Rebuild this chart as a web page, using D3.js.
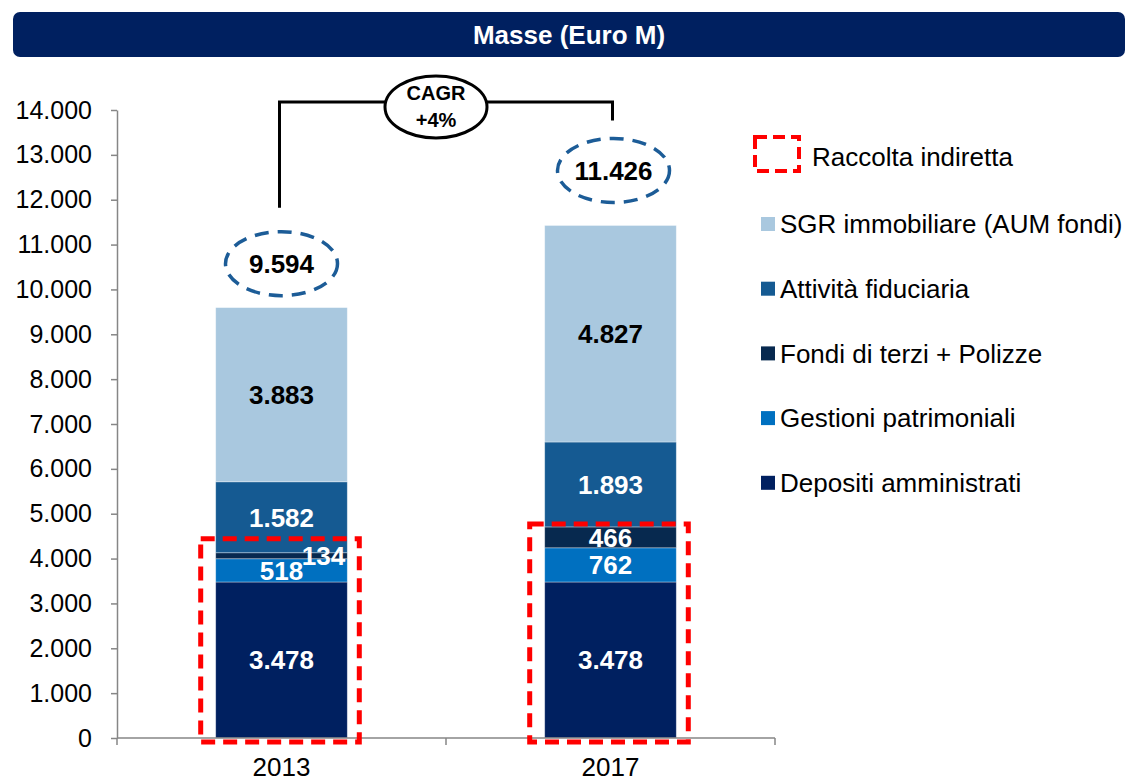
<!DOCTYPE html>
<html>
  <head>
    <meta charset="utf-8">
    <title>Masse (Euro M)</title>
    <script src="https://d3js.org/d3.v7.min.js"></script>
    <style>
      body { margin: 0; background: #fff; }
      text { font-family: "Liberation Sans", Arial, sans-serif; }
      .axis path, .axis line { stroke: #868686; stroke-width: 1.5; }
      .axis text { font-size: 25px; fill: #000; }
    </style>
  </head>
  <body>
    <div id="chart"></div>
    <script>
      // data
      var years = ["2013", "2017"];
      var series = ["Depositi amministrati", "Gestioni patrimoniali", "Fondi di terzi + Polizze",
                    "Attività fiduciaria", "SGR immobiliare (AUM fondi)"];
      var depositi = [3478, 3478];
      var gestioni = [518, 762];
      var fondi = [134, 466];
      var fiduciaria = [1582, 1893];
      var sgr = [3883, 4827];
      var totals = [9594, 11426];
      var yTicks = [0, 1000, 2000, 3000, 4000, 5000, 6000, 7000, 8000, 9000, 10000, 11000, 12000, 13000, 14000];
      var cagrLabel = ["CAGR", "+4%"];

      var colors = ["#002060", "#0070C0", "#07294F", "#155A92", "#A9C8DF"];
      var labelColors = ["#fff", "#fff", "#fff", "#fff", "#000"];

      var it = d3.formatLocale({decimal: ",", thousands: ".", grouping: [3], currency: ["€", ""]});
      var fmt = it.format(",d");

      var width = 1127, height = 781;
      var svg = d3.select("#chart").append("svg")
          .attr("width", width)
          .attr("height", height);

      // title banner
      svg.append("rect")
          .attr("x", 13).attr("y", 12)
          .attr("width", 1112).attr("height", 45)
          .attr("rx", 7)
          .attr("fill", "#002060");
      svg.append("text")
          .attr("x", 569).attr("y", 35)
          .attr("dy", "0.35em")
          .attr("text-anchor", "middle")
          .attr("fill", "#fff")
          .style("font-size", "26px")
          .style("font-weight", "bold")
          .text("Masse (Euro M)");

      var x = d3.scaleBand()
          .domain(years)
          .range([117, 775])
          .paddingInner(0.6)
          .paddingOuter(0.3);
      var y = d3.scaleLinear()
          .domain([0, 14000])
          .range([738, 110]);

      // stack
      var rows = years.map(function(yr, i) {
        return {year: yr, values: [depositi[i], gestioni[i], fondi[i], fiduciaria[i], sgr[i]]};
      });

      var bars = svg.selectAll(".bar")
          .data(rows)
          .enter().append("g")
          .attr("class", "bar");

      bars.each(function(d) {
        var g = d3.select(this);
        var base = 0;
        d.values.forEach(function(v, k) {
          var y0 = base, y1 = base + v;
          base = y1;
          g.append("rect")
              .attr("x", x(d.year))
              .attr("y", y(y1))
              .attr("width", x.bandwidth())
              .attr("height", y(y0) - y(y1))
              .attr("fill", colors[k])
              .attr("stroke", "rgba(255,255,255,0.45)")
              .attr("stroke-width", 0.8);
        });
      });

      // segment labels
      bars.each(function(d) {
        var g = d3.select(this);
        var base = 0;
        d.values.forEach(function(v, k) {
          var y0 = base, y1 = base + v;
          base = y1;
          var h = y(y0) - y(y1);
          var cx = x(d.year) + x.bandwidth() / 2;
          if (h < 15) cx += 42;
          g.append("text")
              .attr("x", cx)
              .attr("y", (y(y0) + y(y1)) / 2)
              .attr("dy", "0.36em")
              .attr("text-anchor", "middle")
              .attr("fill", labelColors[k])
              .style("font-size", "26px")
              .style("font-weight", "bold")
              .text(fmt(v));
        });
      });

      // y axis
      svg.append("g")
          .attr("class", "axis")
          .attr("transform", "translate(117,0)")
          .call(d3.axisLeft(y).tickValues(yTicks).tickFormat(fmt).tickSize(6).tickPadding(19).tickSizeOuter(0));

      // x axis
      var xa = svg.append("g")
          .attr("class", "axis")
          .attr("transform", "translate(0,738)")
          .call(d3.axisBottom(x).tickSize(0).tickPadding(20).tickSizeOuter(0));
      xa.select(".domain").remove();
      xa.append("line")
          .attr("x1", 117).attr("x2", 775)
          .attr("stroke", "#868686").attr("stroke-width", 1.5);
      xa.selectAll(".sep")
          .data([117, 117 + x.step(), 775])
          .enter().append("line")
          .attr("x1", function(d) { return d; })
          .attr("x2", function(d) { return d; })
          .attr("y1", 0).attr("y2", 7)
          .attr("stroke", "#868686").attr("stroke-width", 1.5);
      xa.selectAll(".tick text").style("font-size", "26px");

      // red dashed boxes (raccolta indiretta)
      var topPad = [14, 3];
      rows.forEach(function(d, i) {
        var top = y(d.values[0] + d.values[1] + d.values[2]) - topPad[i];
        svg.append("rect")
            .attr("x", x(d.year) - 15)
            .attr("y", top)
            .attr("width", x.bandwidth() + 27)
            .attr("height", y(0) + 4 - top)
            .attr("fill", "none")
            .attr("stroke", "#ff0000")
            .attr("stroke-width", 5)
            .attr("stroke-dasharray", "14 8");
      });

      // total ellipses
      var ellOff = [44, 55];
      totals.forEach(function(t, i) {
        var cx = x(years[i]) + x.bandwidth() / 2 + (i ? 3 : 0);
        var cy = y(t) - ellOff[i];
        svg.append("ellipse")
            .attr("cx", cx).attr("cy", cy)
            .attr("rx", 56).attr("ry", 32)
            .attr("fill", "none")
            .attr("stroke", "#1C5C97")
            .attr("stroke-width", 3.5)
            .attr("stroke-dasharray", "14 9");
        svg.append("text")
            .attr("x", cx).attr("y", cy)
            .attr("dy", "0.36em")
            .attr("text-anchor", "middle")
            .style("font-size", "26px")
            .style("font-weight", "bold")
            .text(fmt(t));
      });

      // CAGR bracket
      var xl = x(years[0]) + x.bandwidth() / 2 - 2;
      var xr = x(years[1]) + x.bandwidth() / 2 + 2;
      var yb = y(14180);
      svg.append("path")
          .attr("d", "M" + xl + "," + (y(totals[0]) - 100) + "V" + yb + "H" + xr + "V" + (y(totals[1]) - 105))
          .attr("fill", "none")
          .attr("stroke", "#000")
          .attr("stroke-width", 3);
      var cgx = (xl + xr) / 2 - 10;
      svg.append("ellipse")
          .attr("cx", cgx).attr("cy", yb + 5)
          .attr("rx", 51).attr("ry", 31)
          .attr("fill", "#fff")
          .attr("stroke", "#000")
          .attr("stroke-width", 3);
      svg.append("text")
          .attr("x", cgx).attr("y", yb - 9)
          .attr("dy", "0.36em")
          .attr("text-anchor", "middle")
          .style("font-size", "20px")
          .style("font-weight", "bold")
          .text(cagrLabel[0]);
      svg.append("text")
          .attr("x", cgx).attr("y", yb + 18)
          .attr("dy", "0.36em")
          .attr("text-anchor", "middle")
          .style("font-size", "20px")
          .style("font-weight", "bold")
          .text(cagrLabel[1]);

      // legend
      var lg = svg.append("g").attr("class", "legend");
      lg.append("rect")
          .attr("x", 755).attr("y", 137)
          .attr("width", 44).attr("height", 34)
          .attr("fill", "none")
          .attr("stroke", "#ff0000")
          .attr("stroke-width", 4)
          .attr("stroke-dasharray", "12 6");
      lg.append("text")
          .attr("x", 812).attr("y", 157)
          .attr("dy", "0.36em")
          .style("font-size", "26px")
          .text("Raccolta indiretta");

      var legendOrder = [4, 3, 2, 1, 0];
      legendOrder.forEach(function(k, j) {
        var cy = 224 + j * 64.7;
        lg.append("rect")
            .attr("x", 761).attr("y", cy - 7)
            .attr("width", 14).attr("height", 14)
            .attr("fill", colors[k]);
        lg.append("text")
            .attr("x", 780).attr("y", cy)
            .attr("dy", "0.36em")
            .style("font-size", "26px")
            .text(series[k]);
      });
    </script>
  </body>
</html>
